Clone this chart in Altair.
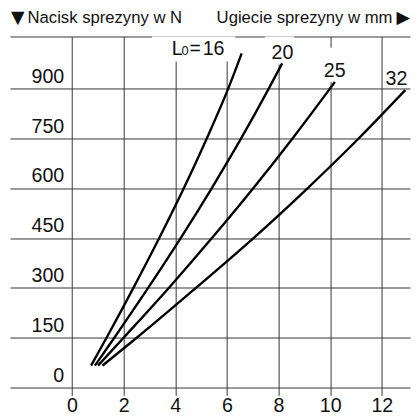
import altair as alt
import pandas as pd

# ---- data ----
y_ticks = [0, 150, 300, 450, 600, 750, 900]
y_tick_labels = ["0", "150", "300", "450", "600", "750", "900"]
x_ticks = [0, 2, 4, 6, 8, 10, 12]
y_top = 1057
x_min, x_max = -2.4, 13.09

series_names = ["16", "20", "25", "32"]
c16_x = [0.74, 1.34, 2.38, 3.38, 4.33, 5.22, 6.05, 6.57]
c16_y = [66, 150, 300, 450, 600, 750, 900, 1006]
c20_x = [0.89, 1.64, 2.95, 4.21, 5.41, 6.55, 7.62, 8.14]
c20_y = [66, 150, 300, 450, 600, 750, 900, 976]
c25_x = [1.01, 2.00, 3.75, 5.42, 7.02, 8.54, 9.99, 10.18]
c25_y = [66, 150, 300, 450, 600, 750, 900, 920]
c32_x = [1.18, 2.51, 4.80, 7.03, 9.12, 11.10, 12.91]
c32_y = [66, 150, 300, 450, 600, 750, 896]

# curve labels (L0 = ...)
lab_text = ["L", "0", "=", "16", "20", "25", "32"]
lab_x = [3.86, 4.24, 4.55, 5.06, 7.73, 9.75, 12.14]
lab_y = [1000, 1000, 1000, 1000, 988, 935, 911]
lab_size = [20, 13, 20, 20, 20, 20, 20]

# white boxes behind curve labels (grid is interrupted there)
mask_x = [3.1, 7.47, 9.56]
mask_x2 = [6.33, 8.61, 10.77]
mask_y = [982, 973, 920]
mask_y2 = [1057, 1057, 1023]

header_left = "Nacisk sprezyny w N"
header_right = "Ugiecie sprezyny w mm"
header_left_x = -1.72
header_right_x = 12.41
tri_down_x = -2.36
tri_right_x = 13.09

FONT = "Liberation Sans"

# ---- build tables ----
rows = []
for name, xs_, ys_ in zip(series_names, [c16_x, c20_x, c25_x, c32_x], [c16_y, c20_y, c25_y, c32_y]):
    for i, (xv, yv) in enumerate(zip(xs_, ys_)):
        rows.append({"series": name, "x": xv, "y": yv, "o": i})
curves = pd.DataFrame(rows)

xs = alt.Scale(domain=[x_min, x_max], nice=False, zero=False)
ys = alt.Scale(domain=[0, y_top], nice=False, zero=False)

x_axis = alt.Axis(values=x_ticks, grid=True, gridColor="#333", gridWidth=1,
                  tickColor="#333", tickSize=8, tickWidth=1, domain=False,
                  labelFontSize=20, labelFont=FONT, labelColor="#111",
                  labelPadding=0, title=None)
y_axis = alt.Axis(values=y_ticks + [y_top], grid=True, gridColor="#333", gridWidth=1,
                  labels=False, ticks=False, domain=False, title=None)

base_grid = alt.Chart(pd.DataFrame({"x": [x_min], "y": [0]})).mark_point(opacity=0).encode(
    x=alt.X("x:Q", scale=xs, axis=x_axis),
    y=alt.Y("y:Q", scale=ys, axis=y_axis),
)

masks = alt.Chart(pd.DataFrame({"x": mask_x, "x2": mask_x2, "y": mask_y, "y2": mask_y2})).mark_rect(
    color="white"
).encode(x=alt.X("x:Q", scale=xs), x2="x2", y=alt.Y("y:Q", scale=ys), y2="y2")

lines = alt.Chart(curves).mark_line(color="black", strokeWidth=2.4, interpolate="monotone").encode(
    x=alt.X("x:Q", scale=xs),
    y=alt.Y("y:Q", scale=ys),
    detail="series:N",
    order="o:Q",
)

ylab = alt.Chart(pd.DataFrame({"t": y_tick_labels, "y": y_ticks, "x": [-0.3] * len(y_ticks)})).mark_text(
    align="right", baseline="alphabetic", dy=-6, fontSize=20, font=FONT, color="#111"
).encode(x=alt.X("x:Q", scale=xs), y=alt.Y("y:Q", scale=ys), text="t:N")

curve_labels = alt.Chart(pd.DataFrame({"t": lab_text, "x": lab_x, "y": lab_y, "s": lab_size})).mark_text(
    align="left", baseline="alphabetic", font=FONT, color="#111"
).encode(x=alt.X("x:Q", scale=xs), y=alt.Y("y:Q", scale=ys), text="t:N",
         size=alt.Size("s:Q", scale=None, legend=None))

def head(text, x, align, size, font=FONT):
    return alt.Chart(pd.DataFrame({"t": [text], "x": [x], "y": [y_top]})).mark_text(
        align=align, baseline="middle", dy=-19, fontSize=size, font=font, color="#111"
    ).encode(x=alt.X("x:Q", scale=xs), y=alt.Y("y:Q", scale=ys), text="t:N")

head_l = head(header_left, header_left_x, "left", 17)
head_r = head(header_right, header_right_x, "right", 17)
tri_d = head("\u25bc", tri_down_x, "left", 18, "DejaVu Sans")
tri_r = head("\u25b6", tri_right_x, "right", 18, "DejaVu Sans")

chart = alt.layer(base_grid, masks, lines, ylab, curve_labels, head_l, head_r, tri_d, tri_r).properties(
    width=408, height=358, autosize="none",
    padding={"left": 2, "top": 25, "right": 1, "bottom": 27},
).configure_view(stroke=None)

chart.save("out.html", embed_options={"renderer": "svg", "actions": False})
